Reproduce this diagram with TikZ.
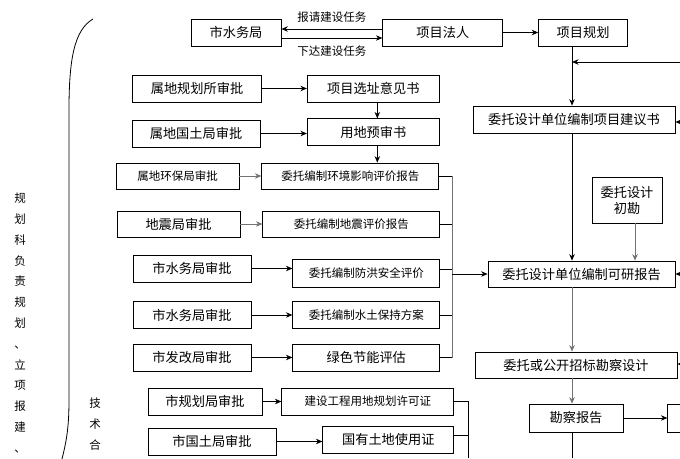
\documentclass[tikz,border=0pt]{standalone}
\usepackage{fontspec}
\setmainfont{Noto Sans CJK SC}
\usepackage{tikz}
\usetikzlibrary{positioning,arrows.meta}

\newcommand{\bigfont}{\fontsize{13.2pt}{16pt}\selectfont}
\newcommand{\smallfont}{\fontsize{11.5pt}{14pt}\selectfont}

\begin{document}
\begin{tikzpicture}[x=1pt, y=-1pt, >={Stealth[length=6.5pt,width=5.5pt]},
  box/.style={draw, line width=0.8pt, inner sep=0pt, minimum height=27pt, font=\bigfont},
  sbox/.style={box, minimum height=26pt, font=\smallfont},
  line/.style={line width=0.8pt},
  gline/.style={line width=0.8pt, draw=black!55}]
  \useasboundingbox (0,0) rectangle (680,458);
  \clip (0,0) rectangle (680,458);

  % Fila superior
  \node[box, minimum width=90pt] (water) at (236,32.5) {市水务局};
  \node[box, minimum width=120pt, right=101pt of water] (owner) {项目法人};
  \node[box, minimum width=89pt, right=35pt of owner] (planning) {项目规划};

  % Columna de aprobaciones
  \node[box, minimum width=129pt] (siteapp) at (197,88.5) {属地规划所审批};
  \node[box, minimum width=132pt, right=45pt of siteapp] (siteop) {项目选址意见书};
  \node[box, minimum width=128pt] (landapp) at (196,133.5) {属地国土局审批};
  \node[box, minimum width=132pt, below=16pt of siteop] (landpre) {用地预审书};
  \node[sbox, minimum width=123pt] (envapp) at (177.5,176) {属地环保局审批};
  \node[sbox, minimum width=177pt, right=22pt of envapp] (envrep) {委托编制环境影响评价报告};
  \node[box, minimum width=123pt, minimum height=26pt] (quakeapp) at (178.5,224) {地震局审批};
  \node[sbox, minimum width=177pt, right=22pt of quakeapp] (quakerep) {委托编制地震评价报告};
  \node[box, minimum width=118pt] (floodapp) at (192,268.5) {市水务局审批};
  \node[sbox, minimum width=147pt, minimum height=28pt, right=41pt of floodapp, yshift=-4.5pt] (floodrep) {委托编制防洪安全评价};
  \node[box, minimum width=118pt] (soilapp) at (192,315) {市水务局审批};
  \node[sbox, minimum width=147pt, minimum height=27pt, right=41pt of soilapp] (soilrep) {委托编制水土保持方案};
  \node[box, minimum width=118pt] (energyapp) at (192,357.5) {市发改局审批};
  \node[box, minimum width=147pt, right=41pt of energyapp] (energyrep) {绿色节能评估};
  \node[box, minimum width=114pt] (permitapp) at (205,401.5) {市规划局审批};
  \node[sbox, minimum width=172pt, minimum height=27pt, right=19pt of permitapp] (permit) {建设工程用地规划许可证};
  \node[box, minimum width=128pt] (landuseapp) at (212,441.5) {市国土局审批};
  \node[box, minimum width=131pt, right=46pt of landuseapp, yshift=2pt] (landcert) {国有土地使用证};

  % Columna derecha
  \node[box, minimum width=202pt] (proposal) at (574,119.5) {委托设计单位编制项目建议书};
  \node[box, minimum width=70pt, minimum height=46pt, align=center] (initsurvey) at (627,200) {委托设计\\初勘};
  \node[box, minimum width=187pt, minimum height=26pt] (feas) at (581.5,274) {委托设计单位编制可研报告};
  \node[box, minimum width=202pt, minimum height=26pt] (design) at (576,365) {委托或公开招标勘察设计};
  \node[box, minimum width=94pt, minimum height=28pt] (report) at (576,418) {勘察报告};
  \node[box, minimum width=60pt, minimum height=28pt, right=44pt of report] (nextbox) {};

  % Textos laterales
  \node[font=\smallfont, align=center, inner sep=0pt] (deptlabel) at (20,323)
    {规\\[6.8pt]划\\[6.8pt]科\\[6.8pt]负\\[6.8pt]责\\[6.8pt]规\\[6.8pt]划\\[6.8pt]、\\[6.8pt]立\\[6.8pt]项\\[6.8pt]报\\[6.8pt]建\\[6.8pt]、};
  \node[font=\smallfont, align=center, inner sep=0pt] (techlabel) at (95,424)
    {技\\[6.8pt]术\\[6.8pt]合};
  \draw[line] (93,19) .. controls (74,30) and (69,60) .. (69,110) -- (69,400)
    .. controls (69,430) and (66,445) .. (59,470);

  % Coordenadas auxiliares
  \coordinate (trunk) at (572,0);
  \coordinate (collect1) at (452,0);
  \coordinate (collect2) at (468,0);
  \coordinate (bottom) at (0,458);
  \coordinate (in1) at (680,62);
  \coordinate (in2) at (680,122);
  \coordinate (in3) at (680,274);
  \coordinate (in4) at (680,364);

  % Flechas de la fila superior
  \draw[line, ->] ([yshift=3.5pt]owner.west) -- node[midway, yshift=12pt, font=\smallfont]{报请建设任务} ([yshift=3.5pt]owner.west -| water.east);
  \draw[line, ->] ([yshift=-5.5pt]water.east) -- node[midway, yshift=-13pt, font=\smallfont]{下达建设任务} ([yshift=-5.5pt]water.east -| owner.west);
  \draw[line, ->] (owner) -- (planning);

  % Flechas de aprobaciones
  \draw[line, ->] (siteapp) -- (siteop);
  \draw[line, ->] (landapp.east) -- (landapp.east -| landpre.west);
  \draw[line, ->] ([xshift=4pt]siteop.south) -- ([xshift=4pt]landpre.north);
  \draw[line, ->] ([xshift=4pt]landpre.south) -- ([xshift=4pt]landpre.south |- envrep.north);
  \draw[gline, ->] (envapp) -- (envrep);
  \draw[gline, ->] (quakeapp) -- (quakerep);
  \draw[line, ->] (floodapp.east) -- (floodapp.east -| floodrep.west);
  \draw[line, ->] (soilapp) -- (soilrep);
  \draw[line, ->] (energyapp) -- (energyrep);
  \draw[line, ->] (permitapp) -- (permit);
  \draw[line, ->] (landuseapp.east) -- (landuseapp.east -| landcert.west);

  % Agrupaciones
  \foreach \n in {envrep, quakerep, soilrep, energyrep}
    \draw[line] (\n.east) -- (\n.east -| collect1);
  \draw[line] ([yshift=4pt]floodrep.east) -- ([yshift=4pt]floodrep.east -| collect1);
  \draw[gline] (envrep.east -| collect1) -- (energyrep.east -| collect1);
  \draw[line, ->] (feas.west -| collect1) -- (feas.west);
  \draw[line] (permit.east) -- (permit.east -| collect2) -- (collect2 |- bottom);
  \draw[line] ([yshift=4pt]landcert.east) -- ([yshift=4pt]landcert.east -| collect2);

  % Eje principal
  \draw[line, ->] (planning.south -| trunk) -- (proposal.north -| trunk);
  \draw[line, ->] (in1) -- (in1 -| trunk);
  \draw[line, ->] (proposal.south -| trunk) -- (feas.north -| trunk);
  \draw[gline, ->] ([xshift=8pt]initsurvey.south) -- ([xshift=8pt]initsurvey.south |- feas.north);
  \draw[gline, ->] (feas.south -| trunk) -- (design.north -| trunk);
  \draw[gline, ->] (design.south -| trunk) -- (report.north -| trunk);
  \draw[line] (report.south -| trunk) -- (bottom -| trunk);
  \draw[line, ->] (report) -- (nextbox);

  % Entradas desde la derecha
  \draw[line, ->] (in2) -- (in2 -| proposal.east);
  \draw[line, ->] (in3) -- (in3 -| feas.east);
  \draw[line, ->] (in4) -- (in4 -| design.east);
\end{tikzpicture}
\end{document}
